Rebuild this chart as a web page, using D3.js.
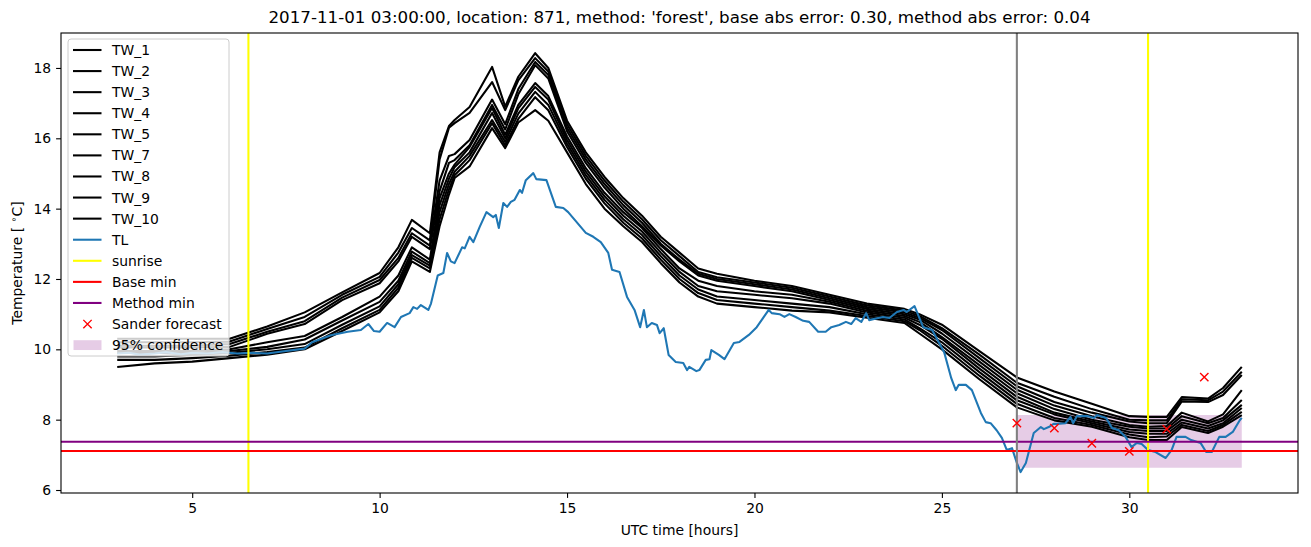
<!DOCTYPE html>
<html>
<head>
<meta charset="utf-8">
<script src="https://cdn.jsdelivr.net/npm/d3@7"></script>
<style>
  html, body { margin: 0; padding: 0; background: #fff; }
  svg { display: block; font-family: "DejaVu Sans", sans-serif; }
</style>
</head>
<body>
<svg id="chart" width="1311" height="547"></svg>
<script>
// ---------------- DATA ----------------
const titleText = "2017-11-01 03:00:00, location: 871, method: 'forest', base abs error: 0.30, method abs error: 0.04";
const xTicks = [5, 10, 15, 20, 25, 30];
const yTicks = [6, 8, 10, 12, 14, 16, 18];

const twTimes = [3,4,5,6,7,8,9,10,10.5,10.86,11.34,11.6,11.85,12,12.4,13,13.35,13.7,14.15,14.5,15,15.5,16,16.5,17,17.5,18,18.5,19,20,21,22,23,24,24.4,25,26,27,28,29,30,30.5,31,31.4,32.1,32.5,33];
const TW_1 = [10.3,10.3,10.3,10.3,10.65,11.05,11.62,12.17,12.9,13.68,13.3,15.6,16.35,16.52,16.89,18.03,16.9,17.75,18.42,18.0,16.5,15.6,14.9,14.3,13.8,13.2,12.75,12.3,12.15,11.95,11.8,11.55,11.3,11.15,11.0,10.7,9.95,9.2,8.8,8.45,8.1,8.08,8.08,8.64,8.6,8.9,9.5];
const TW_2 = [10.2,10.2,10.2,10.22,10.58,10.92,11.55,12.06,12.75,13.45,13.1,15.4,16.3,16.43,16.72,17.6,16.8,17.65,18.28,17.9,16.4,15.5,14.8,14.2,13.7,13.1,12.65,12.2,12.05,11.9,11.75,11.5,11.25,11.1,10.95,10.6,9.85,9.05,8.65,8.3,8.0,7.98,7.98,8.58,8.55,8.8,9.36];
const TW_3 = [10.1,10.1,10.1,10.15,10.5,10.8,11.47,11.97,12.6,13.3,12.95,14.8,15.5,15.55,15.95,17.1,16.4,17.4,18.17,17.8,16.3,15.4,14.7,14.1,13.6,13.0,12.55,12.15,12.0,11.85,11.7,11.45,11.2,11.05,10.9,10.55,9.75,8.95,8.5,8.2,7.95,7.9,7.9,8.52,8.5,8.7,9.27];
const TW_4 = [10.05,10.05,10.05,10.07,10.44,10.72,11.4,11.88,12.5,13.2,12.85,14.5,15.3,15.38,15.8,16.95,16.25,17.25,18.08,17.7,16.2,15.3,14.6,14.0,13.5,12.95,12.5,12.1,11.95,11.8,11.65,11.4,11.15,11.0,10.85,10.45,9.65,8.85,8.4,8.1,7.85,7.8,7.82,8.2,7.95,8.15,8.84];
const TW_5 = [9.95,9.95,9.95,10.0,10.2,10.38,10.92,11.5,12.1,12.9,12.55,14.3,15.0,15.25,15.75,16.86,16.1,16.95,17.57,17.2,16.05,15.15,14.45,13.9,13.45,12.85,12.3,11.95,11.8,11.65,11.55,11.35,11.1,10.95,10.78,10.35,9.55,8.75,8.3,8.0,7.8,7.75,7.75,8.1,7.9,8.05,8.56];
const TW_7 = [9.9,9.9,9.9,9.95,10.07,10.28,10.82,11.35,11.95,12.78,12.45,14.1,14.85,15.18,15.6,16.72,16.0,16.85,17.46,17.1,15.95,15.05,14.35,13.8,13.35,12.75,12.2,11.8,11.65,11.55,11.45,11.3,11.05,10.9,10.7,10.3,9.45,8.65,8.2,7.95,7.72,7.68,7.68,8.0,7.82,7.98,8.42];
const TW_8 = [9.8,9.8,9.85,9.9,10.0,10.15,10.7,11.22,11.85,12.68,12.38,13.9,14.7,15.05,15.5,16.52,15.9,16.7,17.32,16.95,15.85,14.95,14.25,13.7,13.25,12.65,12.1,11.7,11.5,11.4,11.3,11.2,11.0,10.85,10.6,10.2,9.35,8.55,8.15,7.9,7.65,7.6,7.6,7.92,7.75,7.9,8.33];
const TW_9 = [9.7,9.7,9.75,9.82,9.92,10.05,10.6,11.12,11.75,12.6,12.3,13.7,14.55,14.95,15.38,16.43,15.8,16.55,17.17,16.8,15.75,14.85,14.15,13.6,13.15,12.55,12.0,11.6,11.4,11.3,11.2,11.1,10.95,10.8,10.55,10.1,9.25,8.45,8.05,7.85,7.58,7.5,7.52,7.85,7.68,7.85,8.22];
const TW_10 = [9.5,9.6,9.65,9.75,9.85,10.0,10.52,11.05,11.65,12.5,12.2,13.5,14.4,14.87,15.2,16.29,15.72,16.45,16.8,16.5,15.6,14.7,14.0,13.5,13.05,12.45,11.9,11.5,11.3,11.2,11.1,11.05,10.9,10.75,10.45,10.0,9.15,8.35,7.98,7.8,7.5,7.42,7.42,7.79,7.62,7.8,8.13];
const twNames = ["TW_1","TW_2","TW_3","TW_4","TW_5","TW_7","TW_8","TW_9","TW_10"];
const twSeries = [TW_1, TW_2, TW_3, TW_4, TW_5, TW_7, TW_8, TW_9, TW_10];

const tlTimes = [3.0,3.3,3.6,4.0,4.3,4.7,5.0,5.4,5.8,6.2,6.6,7.0,7.5,8.0,8.2,8.7,9.15,9.5,9.7,9.85,10.0,10.2,10.4,10.57,10.8,10.9,11.0,11.1,11.3,11.37,11.55,11.7,11.8,11.9,12.0,12.2,12.27,12.4,12.5,12.67,12.85,13.03,13.1,13.18,13.3,13.4,13.5,13.6,13.74,13.8,13.9,14.1,14.18,14.45,14.7,14.9,15.03,15.5,15.7,15.9,16.1,16.2,16.4,16.6,16.8,16.95,17.05,17.13,17.26,17.4,17.47,17.58,17.71,17.9,18.1,18.2,18.26,18.45,18.53,18.7,18.8,18.85,19.05,19.2,19.45,19.6,19.85,20.06,20.25,20.38,20.46,20.67,20.8,20.93,21.1,21.3,21.46,21.7,21.9,22.05,22.26,22.44,22.58,22.7,22.85,22.98,23.06,23.3,23.43,23.6,23.8,23.98,24.06,24.27,24.5,24.74,25.06,25.25,25.37,25.45,25.64,25.8,26.04,26.17,26.3,26.46,26.6,26.73,26.87,27.0,27.1,27.24,27.45,27.64,27.72,27.85,27.98,28.06,28.3,28.43,28.5,28.6,28.9,29.06,29.14,29.38,29.54,29.72,29.9,30.06,30.2,30.33,30.5,30.7,30.97,31.13,31.26,31.5,31.65,31.9,32.05,32.2,32.4,32.57,32.76,32.95,33.0];
const tlValues = [9.88,9.9,9.85,9.88,9.92,9.86,9.9,9.88,9.92,9.88,9.9,9.88,9.95,10.02,10.2,10.4,10.5,10.55,10.72,10.52,10.5,10.75,10.63,10.92,11.03,11.2,11.15,11.26,11.12,11.3,12.1,12.17,12.74,12.5,12.45,12.9,12.87,13.2,13.05,13.48,13.9,13.76,13.82,13.45,14.16,14.05,14.19,14.25,14.53,14.45,14.81,15.01,14.84,14.81,14.05,14.02,13.9,13.31,13.2,13.05,12.74,12.26,12.2,11.49,11.12,10.63,11.12,10.63,10.75,10.69,10.46,10.6,9.84,9.64,9.61,9.41,9.5,9.38,9.41,9.7,9.72,9.98,9.84,9.72,10.18,10.21,10.41,10.63,10.92,11.12,11.03,11.0,10.92,11.0,10.92,10.81,10.78,10.5,10.5,10.63,10.69,10.78,10.72,10.89,10.78,11.03,10.83,10.89,10.92,10.89,11.06,11.12,11.06,11.23,10.63,10.55,9.92,9.18,8.84,8.99,8.99,8.84,8.19,7.93,7.9,7.7,7.48,7.14,7.19,6.77,6.51,6.77,7.62,7.79,7.73,7.79,7.88,7.88,7.9,8.08,7.9,8.1,8.1,8.05,8.13,8.05,7.76,7.7,7.51,7.22,7.34,7.31,7.14,7.08,6.91,7.14,7.51,7.51,7.42,7.34,7.08,7.08,7.51,7.51,7.65,7.99,8.05];

const sunriseTimes = [6.5, 30.5];
const nowTime = 27;
const baseMin = 7.11;
const methodMin = 7.37;
const sanderTimes = [27, 28, 29, 30, 31, 32];
const sanderValues = [7.90, 7.76, 7.33, 7.10, 7.73, 9.21];
const confTimes = [27, 33];
const confLow = [6.63, 6.63];
const confHigh = [8.13, 8.13];

const legendLabels = ["TW_1","TW_2","TW_3","TW_4","TW_5","TW_7","TW_8","TW_9","TW_10","TL","sunrise","Base min","Method min","Sander forecast","95% confidence"];

// ---------------- LAYOUT ----------------
const W = 1311, H = 547;
const plot = { left: 61, right: 1298, top: 33, bottom: 493 };
const LW = 2.08;      // 1.5pt at 100 dpi
const FS = "13.9px";  // 10pt at 100 dpi
const svg = d3.select("#chart");

const x = d3.scaleLinear().domain([1.5, 34.5]).range([plot.left, plot.right]);
const y = d3.scaleLinear().domain([5.915, 18.994]).range([plot.bottom, plot.top]);

const clipId = "plotclip";
svg.append("defs").append("clipPath").attr("id", clipId)
  .append("rect").attr("x", plot.left).attr("y", plot.top)
  .attr("width", plot.right - plot.left).attr("height", plot.bottom - plot.top);

const g = svg.append("g").attr("clip-path", `url(#${clipId})`);

// confidence fill (drawn underneath)
const confData = confTimes.map((t, i) => ({ t, lo: confLow[i], hi: confHigh[i] }));
g.append("path").datum(confData)
  .attr("d", d3.area().x(d => x(d.t)).y0(d => y(d.lo)).y1(d => y(d.hi)))
  .attr("fill", "purple").attr("fill-opacity", 0.2).attr("stroke", "none");

const line = d3.line().x(d => x(d[0])).y(d => y(d[1]));

twSeries.forEach(s => {
  g.append("path").datum(twTimes.map((t, i) => [t, s[i]]))
    .attr("d", line).attr("fill", "none").attr("stroke", "#000")
    .attr("stroke-width", LW).attr("stroke-linejoin", "round");
});

g.append("path").datum(tlTimes.map((t, i) => [t, tlValues[i]]))
  .attr("d", line).attr("fill", "none").attr("stroke", "#1f77b4")
  .attr("stroke-width", LW).attr("stroke-linejoin", "round");

sunriseTimes.forEach(t => {
  g.append("line").attr("x1", x(t)).attr("x2", x(t)).attr("y1", plot.top).attr("y2", plot.bottom)
    .attr("stroke", "#ffff00").attr("stroke-width", LW);
});
g.append("line").attr("x1", plot.left).attr("x2", plot.right).attr("y1", y(baseMin)).attr("y2", y(baseMin))
  .attr("stroke", "#ff0000").attr("stroke-width", LW);
g.append("line").attr("x1", plot.left).attr("x2", plot.right).attr("y1", y(methodMin)).attr("y2", y(methodMin))
  .attr("stroke", "#800080").attr("stroke-width", LW);
g.append("line").attr("x1", x(nowTime)).attr("x2", x(nowTime)).attr("y1", plot.top).attr("y2", plot.bottom)
  .attr("stroke", "#808080").attr("stroke-width", LW);

const xMark = (cx, cy, r) => `M${cx - r},${cy - r}L${cx + r},${cy + r}M${cx - r},${cy + r}L${cx + r},${cy - r}`;
sanderTimes.forEach((t, i) => {
  g.append("path").attr("d", xMark(x(t), y(sanderValues[i]), 4.17))
    .attr("stroke", "#ff0000").attr("stroke-width", 1.39).attr("fill", "none");
});

// ---------------- AXES ----------------
const xAxis = d3.axisBottom(x).tickValues(xTicks).tickSize(4.9).tickPadding(4.9).tickFormat(d3.format("d"));
const yAxis = d3.axisLeft(y).tickValues(yTicks).tickSize(4.9).tickPadding(4.9).tickFormat(d3.format("d"));

const gx = svg.append("g").attr("transform", `translate(0,${plot.bottom})`).call(xAxis);
const gy = svg.append("g").attr("transform", `translate(${plot.left},0)`).call(yAxis);
[gx, gy].forEach(a => {
  a.select(".domain").remove();
  a.selectAll("line").attr("stroke", "#000").attr("stroke-width", 1.1);
  a.selectAll("text").attr("fill", "#000").attr("font-size", FS).attr("font-family", "DejaVu Sans, sans-serif");
});

svg.append("rect").attr("x", plot.left).attr("y", plot.top)
  .attr("width", plot.right - plot.left).attr("height", plot.bottom - plot.top)
  .attr("fill", "none").attr("stroke", "#000").attr("stroke-width", 1.1);

// labels
svg.append("text").attr("x", (plot.left + plot.right) / 2).attr("y", 23)
  .attr("text-anchor", "middle").attr("font-size", "16.7px").attr("fill", "#000").text(titleText);
svg.append("text").attr("x", (plot.left + plot.right) / 2).attr("y", 535)
  .attr("text-anchor", "middle").attr("font-size", FS).attr("fill", "#000").text("UTC time [hours]");
const yl = svg.append("text").attr("transform", `translate(22,${(plot.top + plot.bottom) / 2}) rotate(-90)`)
  .attr("text-anchor", "middle").attr("font-size", FS).attr("fill", "#000");
yl.append("tspan").text("Temperature [ ");
yl.append("tspan").attr("font-size", "9.7px").attr("dy", "-5").text("\u2218");
yl.append("tspan").attr("dy", "5").text("C]");

// ---------------- LEGEND ----------------
const leg = svg.append("g");
const lx = 68, ly = 39, lw = 161, lh = 317;
leg.append("rect").attr("x", lx).attr("y", ly).attr("width", lw).attr("height", lh)
  .attr("rx", 3).attr("fill", "#fff").attr("fill-opacity", 0.8)
  .attr("stroke", "#cccccc").attr("stroke-width", 1);
const legColors = [...twNames.map(() => "#000"), "#1f77b4", "#ffff00", "#ff0000", "#800080"];
legendLabels.forEach((lab, i) => {
  const cy = 50 + i * 21.08;
  if (i < legColors.length) {
    leg.append("line").attr("x1", 73).attr("x2", 101.5).attr("y1", cy).attr("y2", cy)
      .attr("stroke", legColors[i]).attr("stroke-width", LW);
  } else if (lab === "Sander forecast") {
    leg.append("path").attr("d", xMark(87.5, cy, 4.17)).attr("stroke", "#ff0000").attr("stroke-width", 1.39).attr("fill", "none");
  } else {
    leg.append("rect").attr("x", 73.5).attr("y", cy - 4.9).attr("width", 28).attr("height", 9.8)
      .attr("fill", "purple").attr("fill-opacity", 0.2);
  }
  leg.append("text").attr("x", 112).attr("y", cy + 5).attr("font-size", FS).attr("fill", "#000").text(lab);
});
</script>
</body>
</html>
